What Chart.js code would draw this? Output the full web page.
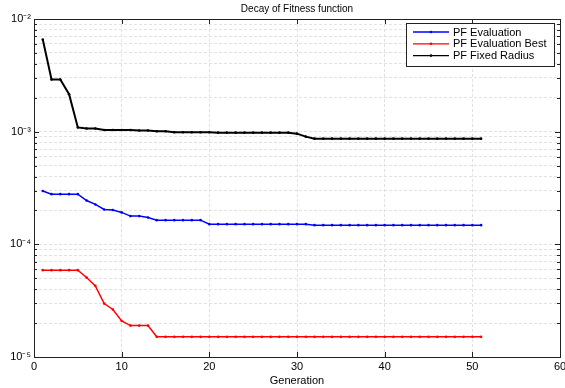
<!DOCTYPE html>
<html>
<head>
<meta charset="utf-8">
<script src="https://cdn.jsdelivr.net/npm/chart.js@4"></script>
<style>
    html, body { margin: 0; padding: 0; background: #fff; }
    #wrap { width: 565px; height: 388px; }
</style>
</head>
<body>
<div id="wrap"><canvas id="chart" width="565" height="388"></canvas></div>
<script>
// Datos
const generations = [1,2,3,4,5,6,7,8,9,10,11,12,13,14,15,16,17,18,19,20,21,22,23,24,25,26,27,28,29,30,
    31,32,33,34,35,36,37,38,39,40,41,42,43,44,45,46,47,48,49,50,51];

const pfEvaluation = [2.97e-4,
    2.79e-4,2.79e-4,2.79e-4,2.79e-4,
    2.45e-4,2.26e-4,2.04e-4,2.02e-4,1.92e-4,
    1.78e-4,1.78e-4,1.73e-4,
    1.64e-4,1.64e-4,1.64e-4,1.64e-4,1.64e-4,1.64e-4,
    1.51e-4,1.51e-4,1.51e-4,1.51e-4,1.51e-4,1.51e-4,1.51e-4,1.51e-4,1.51e-4,1.51e-4,1.51e-4,1.51e-4,
    1.48e-4,1.48e-4,1.48e-4,1.48e-4,1.48e-4,1.48e-4,1.48e-4,1.48e-4,1.48e-4,1.48e-4,
    1.48e-4,1.48e-4,1.48e-4,1.48e-4,1.48e-4,1.48e-4,1.48e-4,1.48e-4,1.48e-4,1.48e-4];

const pfEvaluationBest = [5.9e-5,5.9e-5,5.9e-5,5.9e-5,5.9e-5,
    5.08e-5,4.28e-5,2.98e-5,2.64e-5,2.09e-5,
    1.90e-5,1.90e-5,1.90e-5,
    1.51e-5,1.51e-5,1.51e-5,1.51e-5,1.51e-5,1.51e-5,1.51e-5,1.51e-5,1.51e-5,1.51e-5,
    1.51e-5,1.51e-5,1.51e-5,1.51e-5,1.51e-5,1.51e-5,1.51e-5,1.51e-5,1.51e-5,1.51e-5,
    1.51e-5,1.51e-5,1.51e-5,1.51e-5,1.51e-5,1.51e-5,1.51e-5,1.51e-5,1.51e-5,1.51e-5,
    1.51e-5,1.51e-5,1.51e-5,1.51e-5,1.51e-5,1.51e-5,1.51e-5,1.51e-5];

const pfFixedRadius = [6.58e-3,2.90e-3,2.90e-3,2.15e-3,1.09e-3,
    1.067e-3,1.067e-3,1.035e-3,1.035e-3,1.035e-3,1.035e-3,
    1.025e-3,1.025e-3,1.008e-3,1.008e-3,
    0.988e-3,0.988e-3,0.988e-3,0.988e-3,0.988e-3,
    0.98e-3,0.98e-3,0.98e-3,0.98e-3,0.98e-3,0.98e-3,0.98e-3,0.98e-3,0.98e-3,
    0.96e-3,0.903e-3,
    0.867e-3,0.867e-3,0.867e-3,0.867e-3,0.867e-3,0.867e-3,0.867e-3,0.867e-3,0.867e-3,0.867e-3,
    0.867e-3,0.867e-3,0.867e-3,0.867e-3,0.867e-3,0.867e-3,0.867e-3,0.867e-3,0.867e-3,0.867e-3];

const xTicks = [0, 10, 20, 30, 40, 50, 60];
const decades = [1e-5, 1e-4, 1e-3, 1e-2];
const decadeLabels = ['10\u207B\u2075', '10\u207B\u2074', '10\u207B\u00B3', '10\u207B\u00B2'];

const FONT = '"Liberation Sans", Arial, Helvetica, sans-serif';

function toPoints(values) {
    return generations.map((g, i) => ({ x: g, y: values[i] }));
}

// ticks del eje log: decadas + menores (2..9)
const yTickValues = [];
decades.forEach((d, i) => {
    yTickValues.push(d);
    if (i < decades.length - 1) {
        for (let k = 2; k <= 9; k++) yTickValues.push(d * k);
    }
});

function isDecade(v) {
    return decades.some(d => Math.abs(v - d) / d < 1e-6);
}

// Marco, ticks hacia dentro, titulo y leyenda (estilo MATLAB)
const matlabPlugin = {
    id: 'matlabFrame',
    afterDraw(chart) {
        const { ctx, chartArea: a, scales } = chart;
        ctx.save();
        ctx.strokeStyle = '#222';
        ctx.lineWidth = 1;

        // ticks
        ctx.beginPath();
        yTickValues.forEach(v => {
            const y = Math.round(scales.y.getPixelForValue(v)) + 0.5;
            const len = isDecade(v) ? 5 : 3;
            ctx.moveTo(a.left, y); ctx.lineTo(a.left + len, y);
            ctx.moveTo(a.right, y); ctx.lineTo(a.right - len, y);
        });
        xTicks.forEach(v => {
            const x = Math.round(scales.x.getPixelForValue(v)) + 0.5;
            ctx.moveTo(x, a.bottom); ctx.lineTo(x, a.bottom - 5);
            ctx.moveTo(x, a.top); ctx.lineTo(x, a.top + 5);
        });
        ctx.stroke();

        // marco
        ctx.strokeRect(Math.round(a.left) + 0.5, Math.round(a.top) + 0.5,
            Math.round(a.right - a.left), Math.round(a.bottom - a.top));

        // titulo
        ctx.fillStyle = '#000';
        ctx.font = '10px ' + FONT;
        ctx.textAlign = 'center';
        ctx.textBaseline = 'middle';
        ctx.fillText('Decay of Fitness function', (a.left + a.right) / 2, 9);

        // leyenda
        const lx = 406, ly = 23, lw = 148, lh = 43;
        ctx.fillStyle = '#fff';
        ctx.fillRect(lx, ly, lw, lh);
        ctx.strokeStyle = '#222';
        ctx.strokeRect(lx + 0.5, ly + 0.5, lw, lh);
        ctx.font = '11px ' + FONT;
        ctx.textAlign = 'left';
        chart.data.datasets.forEach((ds, i) => {
            const y = ly + 9 + i * 11.8;
            ctx.strokeStyle = ds.borderColor;
            ctx.lineWidth = 1.3;
            ctx.beginPath();
            ctx.moveTo(413, y); ctx.lineTo(449, y);
            ctx.stroke();
            ctx.fillStyle = ds.borderColor;
            ctx.beginPath();
            ctx.arc(431, y, 1.3, 0, Math.PI * 2);
            ctx.fill();
            ctx.fillStyle = '#000';
            ctx.fillText(ds.label, 453, y + 0.5);
        });
        ctx.restore();
    }
};

const gridStyle = {
    color: '#e2e2e2',
    lineWidth: 1,
    drawTicks: false
};

new Chart(document.getElementById('chart'), {
    type: 'line',
    data: {
        datasets: [
            {
                label: 'PF Evaluation',
                data: toPoints(pfEvaluation),
                borderColor: '#0000ff',
                backgroundColor: '#0000ff',
                borderWidth: 1.5,
                pointRadius: 1.3,
                pointBorderWidth: 0,
                tension: 0
            },
            {
                label: 'PF Evaluation Best',
                data: toPoints(pfEvaluationBest),
                borderColor: '#ff0000',
                backgroundColor: '#ff0000',
                borderWidth: 1.5,
                pointRadius: 1.3,
                pointBorderWidth: 0,
                tension: 0
            },
            {
                label: 'PF Fixed Radius',
                data: toPoints(pfFixedRadius),
                borderColor: '#000000',
                backgroundColor: '#000000',
                borderWidth: 2,
                pointRadius: 1.3,
                pointBorderWidth: 0,
                tension: 0
            }
        ]
    },
    options: {
        responsive: false,
        animation: false,
        devicePixelRatio: 1,
        layout: { padding: { top: 19, right: 5, left: 0, bottom: 0 } },
        plugins: {
            legend: { display: false },
            title: { display: false },
            tooltip: { enabled: false }
        },
        scales: {
            x: {
                type: 'linear',
                min: 0,
                max: 60,
                afterBuildTicks: scale => { scale.ticks = xTicks.map(v => ({ value: v })); },
                afterFit: scale => { scale.height = 31; scale.paddingLeft = 0; scale.paddingRight = 0; },
                grid: gridStyle,
                border: { display: false, dash: [3, 2] },
                ticks: {
                    color: '#000',
                    font: { family: FONT, size: 11 },
                    padding: 3,
                    maxRotation: 0,
                    autoSkip: false
                },
                title: {
                    display: true,
                    text: 'Generation',
                    color: '#000',
                    font: { family: FONT, size: 11 },
                    padding: { top: -1, bottom: 0 }
                }
            },
            y: {
                type: 'logarithmic',
                min: 1e-5,
                max: 1e-2,
                afterBuildTicks: scale => { scale.ticks = yTickValues.map(v => ({ value: v })); },
                afterFit: scale => { scale.width = 34; scale.paddingTop = 0; scale.paddingBottom = 0; },
                grid: gridStyle,
                border: { display: false, dash: [3, 2] },
                ticks: {
                    color: '#000',
                    font: { family: FONT, size: 11 },
                    padding: 3,
                    autoSkip: false,
                    callback: function (v) {
                        const i = decades.findIndex(d => Math.abs(v - d) / d < 1e-6);
                        return i >= 0 ? decadeLabels[i] : '';
                    }
                }
            }
        }
    },
    plugins: [matlabPlugin]
});
</script>
</body>
</html>
